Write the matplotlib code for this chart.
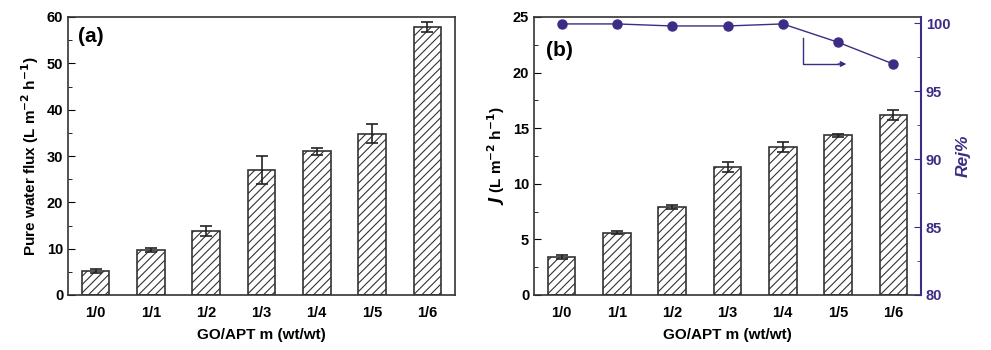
import numpy as np
import matplotlib.pyplot as plt
from matplotlib.ticker import MultipleLocator

plt.rcParams["font.family"] = ["Liberation Sans", "DejaVu Sans"]
plt.rcParams["font.weight"] = "bold"
plt.rcParams["hatch.linewidth"] = 0.8

# -------------------------
# DATA
# -------------------------
ratios = ["1/0", "1/1", "1/2", "1/3", "1/4", "1/5", "1/6"]
pure_flux = [5.2, 9.7, 13.8, 27.0, 31.0, 34.8, 57.8]
pure_flux_err = [0.5, 0.4, 1.0, 3.0, 0.8, 2.0, 1.1]
dye_flux = [3.4, 5.6, 7.9, 11.5, 13.3, 14.35, 16.2]
dye_flux_err = [0.2, 0.15, 0.15, 0.45, 0.45, 0.15, 0.45]
rejection = [99.95, 99.95, 99.8, 99.8, 99.95, 98.6, 97.0]

purple = "#3d2b85"
x = np.arange(len(ratios))

fig = plt.figure(figsize=(9.91, 3.5), dpi=100)
ax1 = fig.add_axes([68 / 991, 55 / 350, 387 / 991, 278 / 350])
ax2 = fig.add_axes([534 / 991, 55 / 350, 387 / 991, 278 / 350])


def draw_bars(ax, vals, errs):
    ax.bar(x, vals, width=0.5, color="white", edgecolor="#333333",
           linewidth=1.2, hatch="////", zorder=2)
    ax.errorbar(x, vals, yerr=errs, fmt="none", ecolor="#222222",
                elinewidth=1.2, capsize=4, capthick=1.2, zorder=3)
    ax.set_xlim(-0.5, 6.5)
    ax.set_xticks(x)
    ax.set_xticklabels(ratios)
    ax.tick_params(axis="x", length=0, pad=8, labelsize=10.5)
    ax.tick_params(axis="y", which="both", direction="in", labelsize=10.5)
    ax.tick_params(axis="y", which="major", length=5)
    ax.tick_params(axis="y", which="minor", length=3)
    for s in ax.spines.values():
        s.set_linewidth(1.2)
        s.set_color("#333333")
    ax.set_xlabel("GO/APT m (wt/wt)", fontsize=11, fontweight="bold", labelpad=6)


# -------------------------
# PANEL (a)
# -------------------------
draw_bars(ax1, pure_flux, pure_flux_err)
ax1.set_ylim(0, 60)
ax1.yaxis.set_major_locator(MultipleLocator(10))
ax1.yaxis.set_minor_locator(MultipleLocator(5))
ax1.set_ylabel("Pure water flux (L m$^{\\mathbf{-2}}$ h$^{\\mathbf{-1}}$)",
               fontsize=11, fontweight="bold")
ax1.text(0.025, 0.965, "(a)", transform=ax1.transAxes, fontsize=15,
         fontweight="bold", va="top")

# -------------------------
# PANEL (b)
# -------------------------
draw_bars(ax2, dye_flux, dye_flux_err)
ax2.set_ylim(0, 25)
ax2.yaxis.set_major_locator(MultipleLocator(5))
ax2.yaxis.set_minor_locator(MultipleLocator(2.5))
ax2.set_ylabel("$\\mathit{J}$ (L m$^{\\mathbf{-2}}$ h$^{\\mathbf{-1}}$)",
               fontsize=11, fontweight="bold")
ax2.text(0.03, 0.915, "(b)", transform=ax2.transAxes, fontsize=15,
         fontweight="bold", va="top")

ax3 = ax2.twinx()
ax3.plot(x, rejection, color=purple, linewidth=1, marker="o", markersize=6.5,
         markerfacecolor=purple, markeredgecolor=purple, zorder=4)
ax3.set_ylim(80, 100.46)
ax3.yaxis.set_major_locator(MultipleLocator(5))
ax3.yaxis.set_minor_locator(MultipleLocator(2.5))
ax3.tick_params(axis="y", which="both", direction="in", colors=purple,
                labelsize=10.5)
ax3.tick_params(axis="y", which="major", length=5)
ax3.tick_params(axis="y", which="minor", length=3)
ax3.spines["right"].set_color(purple)
ax3.spines["right"].set_linewidth(1.5)
for side in ["left", "top", "bottom"]:
    ax3.spines[side].set_visible(False)
ax3.set_ylabel("Rej%", fontsize=12.5, fontweight="bold", fontstyle="italic",
               color=purple)

# arrow pointing to the right axis
ax3.plot([4.37, 4.37, 5.0], [98.9, 97.0, 97.0], color=purple, linewidth=1)
ax3.annotate("", xy=(5.2, 97.0), xytext=(4.95, 97.0),
             arrowprops=dict(arrowstyle="-|>", color=purple, lw=1,
                             mutation_scale=8))

fig.savefig("out.png", dpi=100)
